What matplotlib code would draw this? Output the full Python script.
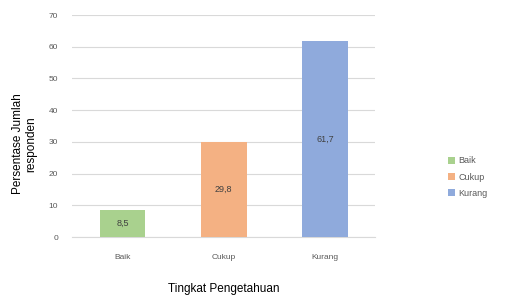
import matplotlib
matplotlib.use("Agg")
import matplotlib.pyplot as plt
from matplotlib.patches import Patch

categories = ["Baik", "Cukup", "Kurang"]
values = [8.5, 29.8, 61.7]
colors = ["#a9d18e", "#f4b183", "#8faadc"]
yticks = [0, 10, 20, 30, 40, 50, 60, 70]

plt.rcParams['font.family'] = ['Liberation Sans', 'DejaVu Sans']
fig = plt.figure(figsize=(5.08, 3.0), dpi=100)
ax = fig.add_axes([0.142, 0.21, 0.597, 0.74])

x = list(range(len(categories)))
bars = ax.bar(x, values, width=0.45, color=colors, zorder=3)
for xi, v in zip(x, values):
    ax.text(xi, v / 2, f"{v:.1f}".replace(".", ","), ha="center", va="center",
            fontsize=6.5, color="#404040", zorder=4)

ax.set_xlim(-0.5, 2.5)
ax.set_ylim(0, 70)
ax.set_yticks(yticks)
ax.set_yticklabels([str(t) for t in yticks], fontsize=6, color="#595959")
ax.set_xticks(x)
ax.set_xticklabels(categories, fontsize=6, color="#595959")
ax.tick_params(axis="y", length=0, pad=10)
ax.tick_params(axis="x", length=0, pad=12)
ax.yaxis.grid(True, color="#d9d9d9", linewidth=0.8, zorder=0)
for s in ["top", "right", "left"]:
    ax.spines[s].set_visible(False)
ax.spines["bottom"].set_color("#d9d9d9")
ax.set_xlabel("Tingkat Pengetahuan", fontsize=8.5, color="#000000", labelpad=16)
ax.set_ylabel("Persentase Jumlah\nresponden", fontsize=8.5, color="#000000",
              linespacing=1.15)
ax.yaxis.set_label_coords(-0.115, 0.42)

handles = [Patch(facecolor=c, label=l) for c, l in zip(colors, categories)]
fig.legend(handles=handles, loc="center left", bbox_to_anchor=(0.865, 0.41),
           frameon=False, fontsize=6.5, handlelength=0.8, handleheight=0.8,
           labelcolor="#595959", labelspacing=0.8, handletextpad=0.4)

fig.savefig("out.png", dpi=100)
